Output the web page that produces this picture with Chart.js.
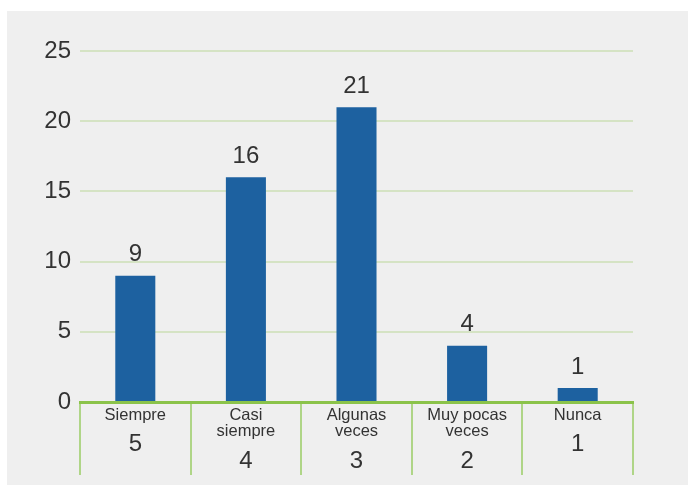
<!DOCTYPE html>
<html>
<head>
<meta charset="utf-8">
<script src="https://cdn.jsdelivr.net/npm/chart.js@4/dist/chart.umd.min.js"></script>
<style>
  html, body { margin: 0; padding: 0; background: #ffffff; }
  #bg { position: absolute; left: 7px; top: 11px; width: 681px; height: 474px; background: #efefef; }
  #wrap { position: absolute; left: 0; top: 0; width: 688px; height: 485px; }
</style>
</head>
<body>
<div id="bg"></div>
<div id="wrap"><canvas id="c" width="688" height="485"></canvas></div>
<script>
const categoryNames = [["Siempre"], ["Casi", "siempre"], ["Algunas", "veces"], ["Muy pocas", "veces"], ["Nunca"]];
const categoryScores = [["5"], ["", "4"], ["", "3"], ["", "2"], ["1"]];
const responses = [9, 16, 21, 4, 1];
const yTicks = [0, 5, 10, 15, 20, 25];

const FONT = "'Liberation Sans', Arial, Helvetica, sans-serif";
const TEXT = '#333333';

const valueLabels = {
  id: 'valueLabels',
  afterDatasetsDraw(chart) {
    const ctx = chart.ctx;
    const meta = chart.getDatasetMeta(0);
    ctx.save();
    ctx.font = '24px ' + FONT;
    ctx.fillStyle = TEXT;
    ctx.textAlign = 'center';
    ctx.textBaseline = 'middle';
    meta.data.forEach((bar, i) => {
      ctx.fillText(String(chart.data.datasets[0].data[i]), bar.x, bar.y - 21);
    });
    ctx.restore();
  }
};

new Chart(document.getElementById('c'), {
  type: 'bar',
  data: {
    labels: categoryNames,
    datasets: [{
      data: responses,
      backgroundColor: '#1d61a0',
      borderWidth: 0,
      barPercentage: 0.362,
      categoryPercentage: 1.0
    }]
  },
  options: {
    responsive: false,
    animation: false,
    devicePixelRatio: 1,
    layout: { padding: { left: 0, right: 55, top: 51, bottom: 0 } },
    plugins: { legend: { display: false }, tooltip: { enabled: false } },
    scales: {
      y: {
        min: 0, max: 25,
        afterBuildTicks: (s) => { s.ticks = yTicks.map(v => ({ value: v })); },
        afterFit: (s) => { s.width = 80; },
        border: { display: false },
        grid: { color: '#d5e3c4', lineWidth: 2, drawTicks: false },
        ticks: { font: { family: FONT, size: 24 }, color: TEXT, padding: 9 }
      },
      x: {
        type: 'category',
        offset: true,
        weight: 0,
        afterFit: (s) => { s.height = 73; },
        border: { display: true, color: '#8bc34a', width: 3 },
        grid: { offset: true, drawOnChartArea: false, drawTicks: true, tickLength: 73, color: '#afd587', lineWidth: 2 },
        ticks: { font: { family: FONT, size: 16.5, lineHeight: 1.0 }, color: TEXT, padding: -68.2, maxRotation: 0, autoSkip: false }
      },
      x2: {
        type: 'category',
        position: 'bottom',
        labels: categoryScores,
        offset: true,
        weight: 1,
        afterFit: (s) => { s.height = 10; },
        border: { display: false },
        grid: { display: false, drawTicks: false, tickLength: 0 },
        ticks: { mirror: true, font: { family: FONT, size: 24, lineHeight: 0.68 }, color: TEXT, padding: 22.2, maxRotation: 0, autoSkip: false }
      }
    }
  },
  plugins: [valueLabels]
});
</script>
</body>
</html>
